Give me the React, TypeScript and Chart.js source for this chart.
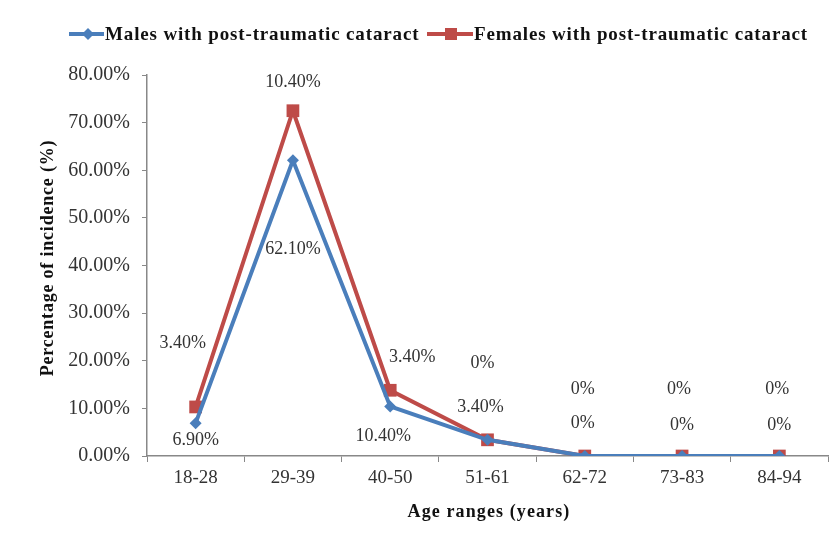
import React, { useEffect, useRef } from "react";
import { Chart, registerables } from "chart.js";

Chart.register(...registerables);

const categories = ["18-28", "29-39", "40-50", "51-61", "62-72", "73-83", "84-94"];
const maleValues = [6.9, 62.1, 10.4, 3.4, 0, 0, 0];
const femaleValues = [3.4, 10.4, 3.4, 0, 0, 0, 0];
const maleLabel = "Males with post-traumatic cataract";
const femaleLabel = "Females with post-traumatic cataract";
const yTicks = [0, 10, 20, 30, 40, 50, 60, 70, 80];

const MALE_COLOR = "#4A7EBB";
const FEMALE_COLOR = "#BE4B48";
const SERIF = "'Liberation Serif', 'Times New Roman', serif";

// per-point label offsets (styling, px relative to the point)
const maleOffsets = [[0, 17], [0, 89], [-7, 30], [-7, -33], [-2, -33], [0, -31], [0, -31]];
const femaleOffsets = [[-13, -64], [0, -28], [22, -33], [-5, -77], [-2, -67], [-3, -67], [-2, -67]];

const fmt = (v: number) => (v === 0 ? "0%" : v.toFixed(2) + "%");

const overlayPlugin = {
  id: "overlay",
  afterDatasetsDraw(chart: any) {
    const ctx = chart.ctx;
    ctx.save();
    // data labels
    ctx.font = `18px ${SERIF}`;
    ctx.fillStyle = "#333333";
    ctx.textAlign = "center";
    ctx.textBaseline = "middle";
    const offs = [maleOffsets, femaleOffsets];
    chart.data.datasets.forEach((ds: any, di: number) => {
      const meta = chart.getDatasetMeta(di);
      meta.data.forEach((pt: any, i: number) => {
        const o = offs[di][i];
        ctx.fillText(fmt(ds.data[i]), pt.x + o[0], pt.y + o[1]);
      });
    });

    // legend
    const drawEntry = (x0: number, x1: number, mx: number, color: string, style: string, text: string) => {
      const y = 34;
      ctx.strokeStyle = color;
      ctx.lineWidth = 4;
      ctx.beginPath();
      ctx.moveTo(x0, y);
      ctx.lineTo(x1, y);
      ctx.stroke();
      ctx.fillStyle = color;
      ctx.beginPath();
      if (style === "diamond") {
        ctx.moveTo(mx, y - 6);
        ctx.lineTo(mx + 6, y);
        ctx.lineTo(mx, y + 6);
        ctx.lineTo(mx - 6, y);
        ctx.closePath();
      } else {
        ctx.rect(mx - 6, y - 6, 12, 12);
      }
      ctx.fill();
      ctx.fillStyle = "#111111";
      ctx.font = `bold 19px ${SERIF}`;
      (ctx as any).letterSpacing = "0.85px";
      ctx.textAlign = "left";
      ctx.fillText(text, x1 + 1, y + 1);
      (ctx as any).letterSpacing = "0px";
    };
    drawEntry(69, 104, 88, MALE_COLOR, "diamond", maleLabel);
    drawEntry(427, 473, 451, FEMALE_COLOR, "square", femaleLabel);

    // axis titles
    ctx.fillStyle = "#111111";
    ctx.font = `bold 18px ${SERIF}`;
    (ctx as any).letterSpacing = "1.1px";
    ctx.textAlign = "center";
    ctx.fillText("Age ranges (years)", 489, 512);
    (ctx as any).letterSpacing = "0.8px";
    ctx.translate(48, 258);
    ctx.rotate(-Math.PI / 2);
    ctx.fillText("Percentage of incidence (%)", 0, 0);
    (ctx as any).letterSpacing = "0px";
    ctx.restore();
  },
};

export default function App() {
  const ref = useRef<HTMLCanvasElement | null>(null);
  useEffect(() => {
    document.body.style.margin = "0";
    if (!ref.current) return;
    const chart = new Chart(ref.current, {
      type: "line",
      data: {
        labels: categories,
        datasets: [
          {
            label: maleLabel,
            data: maleValues,
            borderColor: MALE_COLOR,
            backgroundColor: MALE_COLOR,
            borderWidth: 4,
            pointStyle: "rectRot",
            pointRadius: 6,
            pointBorderWidth: 0,
            fill: false,
            tension: 0,
          },
          {
            label: femaleLabel,
            data: femaleValues,
            borderColor: FEMALE_COLOR,
            backgroundColor: FEMALE_COLOR,
            borderWidth: 4,
            pointStyle: "rect",
            pointRadius: 9,
            pointBorderWidth: 0,
            fill: false,
            tension: 0,
          },
        ],
      },
      options: {
        responsive: false,
        animation: false,
        layout: { padding: { left: 0, top: 75, right: 9, bottom: 0 } },
        plugins: {
          legend: { display: false },
          tooltip: { enabled: false },
        },
        scales: {
          x: {
            type: "category",
            offset: true,
            grid: {
              display: true,
              offset: true,
              drawOnChartArea: false,
              drawTicks: true,
              tickLength: 6,
              color: "#888888",
            },
            border: { display: true, color: "#888888", width: 1.5 },
            ticks: {
              font: { family: SERIF, size: 19 },
              color: "#333333",
              padding: 5,
            },
            afterFit: (scale: any) => {
              scale.height = 88;
            },
          },
          y: {
            stacked: true,
            min: 0,
            max: 80,
            afterBuildTicks: (scale: any) => {
              scale.ticks = yTicks.map((v) => ({ value: v }));
            },
            grid: {
              display: true,
              drawOnChartArea: false,
              drawTicks: true,
              tickLength: 5,
              color: "#888888",
            },
            border: { display: true, color: "#888888", width: 1.5 },
            ticks: {
              font: { family: SERIF, size: 20 },
              color: "#333333",
              padding: 12,
              callback: (v: any) => Number(v).toFixed(2) + "%",
            },
            afterFit: (scale: any) => {
              scale.width = 147;
            },
          },
        },
      },
      plugins: [overlayPlugin],
    });
    return () => chart.destroy();
  }, []);
  return (
    <div style={{ width: 837, height: 544, background: "#fff" }}>
      <canvas ref={ref} width={837} height={544} />
    </div>
  );
}
